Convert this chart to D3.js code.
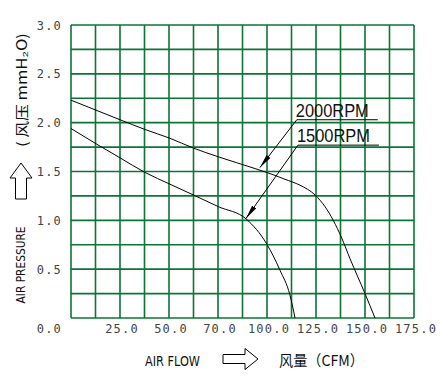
<!DOCTYPE html>
<meta charset="utf-8">
<style>
  body { margin: 0; background: #fff; }
  svg { display: block; }
</style>
<script src="https://d3js.org/d3.v7.min.js"></script>
<div id="chart"></div>
<script>
// fan curves (CFM, mmH2O)
var flow2000 = [0, 25, 37.8, 50.5, 62.4, 75.2, 93.9, 104.1, 109.2, 116.8, 124.5, 129.6, 133.8, 138.1, 142.3, 150, 155.1];
var pres2000 = [2.23, 2.03, 1.93, 1.84, 1.74, 1.65, 1.53, 1.46, 1.42, 1.36, 1.26, 1.14, 1.0, 0.82, 0.61, 0.25, 0];
var flow1500 = [0, 13.1, 25, 37.8, 50.5, 62.4, 75.2, 89.6, 99.8, 106.6, 111.7, 114.3];
var pres1500 = [1.94, 1.78, 1.64, 1.49, 1.37, 1.26, 1.14, 1.01, 0.76, 0.49, 0.235, 0];

var xTickValues = [25, 50, 75, 100, 125, 150, 175];
var xTickLabels = ["25.0", "50.0", "70.0", "100.0", "125.0", "150.0", "175.0"];
var yTickValues = [0.5, 1.0, 1.5, 2.0, 2.5, 3.0];
var yTickLabels = ["0.5", "1.0", "1.5", "2.0", "2.5", "3.0"];

// label text, start of underline (data coords), arrow tip on the curve
var rpmLabels = ["2000RPM", "1500RPM"];
var rpmLabelAt = [[115.2, 2.03], [115.8, 1.77]];
var rpmPointTo = [[96.4, 1.54], [89.3, 1.02]];

var W = 448, H = 379;
var svg = d3.select("#chart").append("svg").attr("width", W).attr("height", H);

var x = d3.scaleLinear().domain([0, 175]).range([71, 414]);
var y = d3.scaleLinear().domain([0, 3]).range([318, 25]);

var green = "#0a7535";

// grid
var grid = svg.append("g");
grid.selectAll("line.v").data(d3.range(0, 175.01, 12.5)).enter().append("line")
    .attr("x1", function(d) { return x(d); }).attr("x2", function(d) { return x(d); })
    .attr("y1", y(0)).attr("y2", y(3))
    .attr("stroke", green).attr("stroke-width", 1.6);
grid.selectAll("line.h").data(d3.range(0, 3.01, 0.25)).enter().append("line")
    .attr("y1", function(d) { return y(d); }).attr("y2", function(d) { return y(d); })
    .attr("x1", x(0)).attr("x2", x(175))
    .attr("stroke", green).attr("stroke-width", 1.6);

// tick labels
var tickFont = "'DejaVu Sans Mono', monospace";
svg.append("g").selectAll("text").data(xTickValues).enter().append("text")
    .attr("x", function(d) { return x(d) + 2; })
    .attr("y", 333)
    .attr("text-anchor", "middle")
    .style("font-family", tickFont).style("font-size", "12px")
    .style("letter-spacing", "1.2px").attr("fill", "#444")
    .text(function(d, i) { return xTickLabels[i]; });
svg.append("g").selectAll("text").data(yTickValues).enter().append("text")
    .attr("x", 62)
    .attr("y", function(d) { return y(d) + 4.5; })
    .attr("text-anchor", "end")
    .style("font-family", tickFont).style("font-size", "12px")
    .style("letter-spacing", "1.2px").attr("fill", "#444")
    .text(function(d, i) { return yTickLabels[i]; });
svg.append("text").attr("x", 62).attr("y", 333).attr("text-anchor", "end")
    .style("font-family", tickFont).style("font-size", "12px")
    .style("letter-spacing", "1.2px").attr("fill", "#444").text("0.0");

// curves
var line = d3.line()
    .x(function(d) { return x(d[0]); })
    .y(function(d) { return y(d[1]); })
    .curve(d3.curveMonotoneX);
svg.append("path").datum(d3.zip(flow2000, pres2000))
    .attr("d", line).attr("fill", "none").attr("stroke", "#000").attr("stroke-width", 1);
svg.append("path").datum(d3.zip(flow1500, pres1500))
    .attr("d", line).attr("fill", "none").attr("stroke", "#000").attr("stroke-width", 1);

// annotation arrows
svg.append("defs").append("marker")
    .attr("id", "tip").attr("viewBox", "0 0 14 6")
    .attr("refX", 14).attr("refY", 3)
    .attr("markerWidth", 14).attr("markerHeight", 6)
    .attr("markerUnits", "userSpaceOnUse").attr("orient", "auto")
    .append("path").attr("d", "M0,0.6 L14,3 L0,5.4 Z").attr("fill", "#000");

rpmLabels.forEach(function(lbl, i) {
    var sx = x(rpmLabelAt[i][0]), sy = y(rpmLabelAt[i][1]);
    svg.append("text").attr("x", sx - 1).attr("y", sy - 3)
        .attr("textLength", 73).attr("lengthAdjust", "spacingAndGlyphs")
        .style("font-family", "'Liberation Sans', Arial, sans-serif").style("font-size", "18px")
        .attr("fill", "#111").text(lbl);
    svg.append("line").attr("x1", sx).attr("x2", sx + 81).attr("y1", sy).attr("y2", sy)
        .attr("stroke", "#000").attr("stroke-width", 1);
    svg.append("line").attr("x1", sx).attr("y1", sy)
        .attr("x2", x(rpmPointTo[i][0])).attr("y2", y(rpmPointTo[i][1]))
        .attr("stroke", "#000").attr("stroke-width", 1).attr("marker-end", "url(#tip)");
});

// axis titles
var titleFont = "'DejaVu Sans', sans-serif";
svg.append("text").attr("x", 145).attr("y", 365.5)
    .attr("textLength", 55).attr("lengthAdjust", "spacingAndGlyphs")
    .style("font-family", titleFont).style("font-size", "14px").attr("fill", "#111")
    .text("AIR FLOW");
svg.append("path")
    .attr("d", "M223,354.5 L245,354.5 L245,348.5 L258,359 L245,369.5 L245,363.5 L223,363.5 Z")
    .attr("fill", "#fff").attr("stroke", "#000").attr("stroke-width", 1);
svg.append("text").attr("x", 279).attr("y", 366)
    .attr("textLength", 85).attr("lengthAdjust", "spacingAndGlyphs")
    .style("font-family", "'Noto Sans CJK SC', sans-serif").style("font-size", "15px").attr("fill", "#111")
    .text("风量（CFM）");

svg.append("text").attr("transform", "translate(25,265) rotate(-90)")
    .attr("text-anchor", "middle")
    .attr("textLength", 77).attr("lengthAdjust", "spacingAndGlyphs")
    .style("font-family", titleFont).style("font-size", "13px").attr("fill", "#111")
    .text("AIR PRESSURE");
svg.append("path")
    .attr("d", "M15.5,199 L15.5,178 L10,178 L21,163 L32,178 L26.5,178 L26.5,199 Z")
    .attr("fill", "#fff").attr("stroke", "#000").attr("stroke-width", 1);
svg.append("text").attr("transform", "translate(27,90) rotate(-90)")
    .attr("text-anchor", "middle")
    .attr("textLength", 114).attr("lengthAdjust", "spacingAndGlyphs")
    .style("font-family", "'Noto Sans CJK SC', sans-serif").style("font-size", "14px").attr("fill", "#111")
    .text("(  风压   mmH₂O)");
</script>
